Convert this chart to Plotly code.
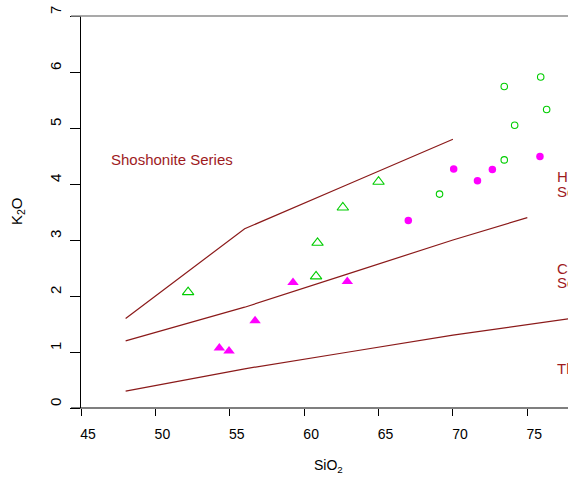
import plotly.graph_objects as go

# Boundary lines (Peccerillo & Taylor 1976)
th_ca_x = [48, 52, 56, 63, 70, 78]
th_ca_y = [0.3, 0.5, 0.7, 1.0, 1.3, 1.6]
ca_hk_x = [48, 52, 56, 63, 70, 75]
ca_hk_y = [1.2, 1.5, 1.8, 2.4, 3.0, 3.4]
hk_sh_x = [48, 56, 63, 70]
hk_sh_y = [1.6, 3.2, 4.0, 4.8]

# Samples
tri_open_x = [52.2, 60.8, 60.9, 62.6, 65.0]
tri_open_y = [2.07, 2.35, 2.95, 3.58, 4.04]
tri_fill_x = [54.3, 54.95, 56.7, 59.25, 62.9]
tri_fill_y = [1.07, 1.02, 1.56, 2.24, 2.26]
circ_fill_x = [67.0, 70.05, 71.65, 72.65, 75.85]
circ_fill_y = [3.35, 4.27, 4.06, 4.26, 4.49]
circ_open_x = [69.1, 73.45, 73.45, 74.15, 75.9, 76.3]
circ_open_y = [3.82, 4.43, 5.74, 5.05, 5.91, 5.33]

x_ticks = [45, 50, 55, 60, 65, 70, 75]
y_ticks = [0, 1, 2, 3, 4, 5, 6, 7]

LINE = "#8B1A1A"
TEXT = "#9E1B1E"
GREEN = "#00CD00"
MAG = "#FF00FF"
FONT = "Liberation Sans, Arial, sans-serif"

fig = go.Figure()
for xs, ys in [(th_ca_x, th_ca_y), (ca_hk_x, ca_hk_y), (hk_sh_x, hk_sh_y)]:
    fig.add_trace(go.Scatter(x=xs, y=ys, mode="lines",
                             line=dict(color=LINE, width=1.2), hoverinfo="skip"))

fig.add_trace(go.Scatter(x=tri_open_x, y=tri_open_y, mode="markers",
                         marker=dict(symbol="triangle-up-open", size=10, color=GREEN,
                                     line=dict(width=1.1, color=GREEN))))
fig.add_trace(go.Scatter(x=tri_fill_x, y=tri_fill_y, mode="markers",
                         marker=dict(symbol="triangle-up", size=10, color=MAG,
                                     line=dict(width=0))))
fig.add_trace(go.Scatter(x=circ_fill_x, y=circ_fill_y, mode="markers",
                         marker=dict(symbol="circle", size=7.5, color=MAG,
                                     line=dict(width=0))))
fig.add_trace(go.Scatter(x=circ_open_x, y=circ_open_y, mode="markers",
                         marker=dict(symbol="circle-open", size=6.5, color=GREEN,
                                     line=dict(width=1.1, color=GREEN))))

W_PLOT = 487.0
H_PLOT = 392.0
ext = -10.0 / W_PLOT

shapes = [
    dict(type="line", xref="paper", yref="paper", x0=ext, x1=1, y0=0, y1=0,
         line=dict(color="black", width=1.2)),
    dict(type="line", xref="paper", yref="paper", x0=ext, x1=1, y0=1, y1=1,
         line=dict(color="#8c8c8c", width=1.5)),
]

labels = [
    ("Shoshonite Series", 46.87, 4.44),
    ("High-K calc-alkaline", 76.85, 4.14),
    ("Series", 76.85, 3.87),
    ("Calc-alkaline", 76.85, 2.50),
    ("Series", 76.85, 2.24),
    ("Tholeiite Series", 76.85, 0.70),
]
annotations = []
for t, x, y in labels:
    annotations.append(dict(text=t, x=x, y=y, xref="x", yref="y", showarrow=False,
                            xanchor="left", yanchor="middle",
                            font=dict(family=FONT, size=15, color=TEXT)))

annotations.append(dict(text="SiO<sub>2</sub>", xref="paper", yref="paper",
                        x=(328 - 81) / W_PLOT, y=1 - (466 - 16) / H_PLOT,
                        showarrow=False, xanchor="center", yanchor="middle",
                        font=dict(family=FONT, size=14, color="black")))
annotations.append(dict(text="K<sub>2</sub>O", xref="paper", yref="paper",
                        x=(17 - 81) / W_PLOT, y=1 - (211 - 16) / H_PLOT,
                        showarrow=False, textangle=-90, xanchor="center", yanchor="middle",
                        font=dict(family=FONT, size=15, color="black")))

fig.update_layout(
    width=568, height=480,
    margin=dict(l=81, r=0, t=16, b=72, pad=0),
    paper_bgcolor="white", plot_bgcolor="white",
    showlegend=False,
    shapes=shapes,
    annotations=annotations,
    font=dict(family=FONT, size=14, color="black"),
    xaxis=dict(range=[45, 45 + W_PLOT / 14.877], tickvals=x_ticks,
               showgrid=False, zeroline=False, showline=False,
               ticks="outside", ticklen=7, tickwidth=1, tickcolor="black",
               ticklabelshift=7, ticklabelstandoff=6,
               tickfont=dict(family=FONT, size=14, color="black")),
    yaxis=dict(range=[0, 7], tickvals=y_ticks,
               showgrid=False, zeroline=False, showline=True, linecolor="black", linewidth=1.2,
               ticks="outside", ticklen=10, tickwidth=1, tickcolor="black",
               tickangle=-90, ticklabelshift=-4, ticklabelstandoff=3,
               tickfont=dict(family=FONT, size=15, color="black")),
)

fig.write_html("out.html")
